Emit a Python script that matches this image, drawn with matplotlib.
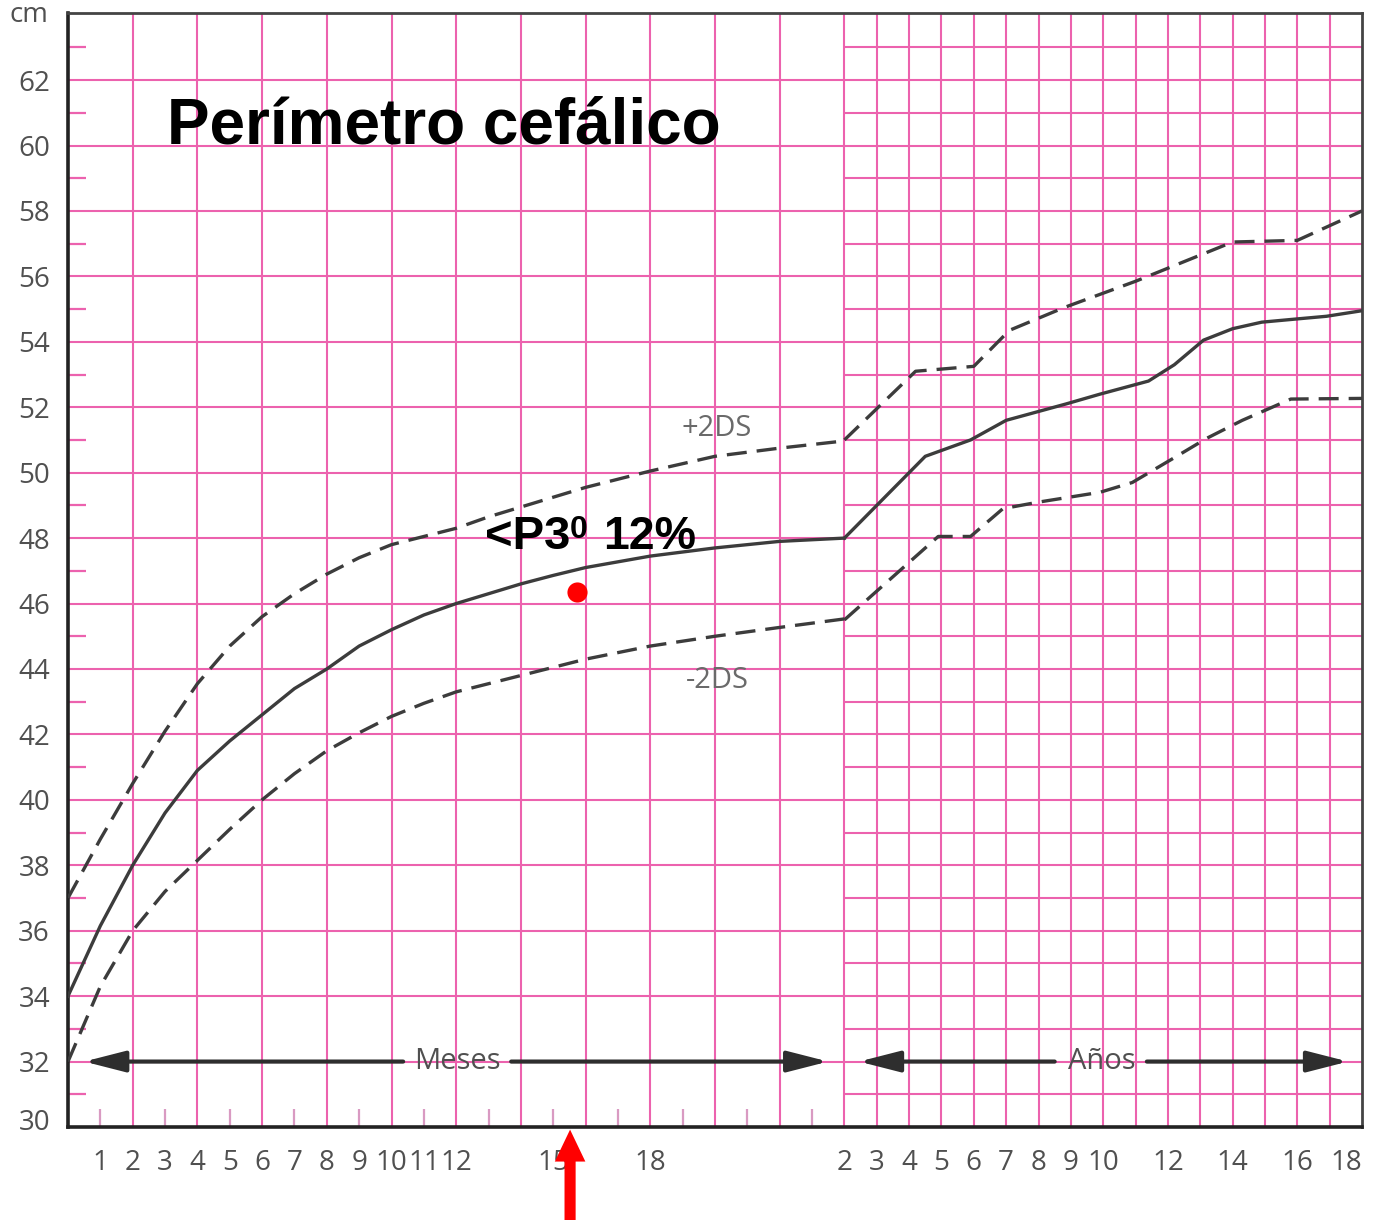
import numpy as np
import matplotlib
matplotlib.use("Agg")
import matplotlib.pyplot as plt
import matplotlib.transforms as mtransforms
from matplotlib.ticker import FixedLocator
from matplotlib.patches import FancyArrowPatch

# ---------------- data ----------------
# months section (0-24 months)
months = [0, 1, 2, 3, 4, 5, 6, 7, 8, 9, 10, 11, 12, 13, 14, 15, 16, 18, 20, 22, 24]
median_months = [34.0, 36.15, 38.0, 39.6, 40.9, 41.8, 42.6, 43.4, 44.0, 44.7, 45.2, 45.65,
                 46.0, 46.3, 46.6, 46.86, 47.1, 47.45, 47.7, 47.9, 48.0]
plus2_months = [37.0, 38.8, 40.5, 42.1, 43.55, 44.7, 45.6, 46.3, 46.9, 47.4, 47.8, 48.05,
                48.3, 48.65, 48.95, 49.25, 49.55, 50.05, 50.5, 50.75, 50.97]
minus2_months = [32.0, 34.3, 36.0, 37.2, 38.15, 39.1, 40.0, 40.8, 41.5, 42.05, 42.55, 42.95,
                 43.3, 43.55, 43.8, 44.05, 44.3, 44.7, 45.0, 45.27, 45.53]

# years section (2-18 years)
median_years_age = [2, 4.5, 5.9, 7, 8.85, 9.9, 11.4, 12.2, 13.1, 14, 14.9, 16, 16.9, 18]
median_years = [48.0, 50.5, 51.0, 51.6, 52.1, 52.4, 52.8, 53.3, 54.05, 54.4, 54.6, 54.7, 54.78, 54.95]
plus2_years_age = [2, 4.2, 6.0, 7.1, 8.8, 11, 14, 16, 18]
plus2_years = [51.0, 53.1, 53.25, 54.35, 55.05, 55.85, 57.05, 57.1, 58.0]
minus2_years_age = [2, 4.9, 5.9, 6.9, 8, 9.9, 10.9, 12.1, 13.2, 14.3, 15.8, 18]
minus2_years = [45.5, 48.05, 48.05, 48.9, 49.1, 49.4, 49.7, 50.4, 51.05, 51.6, 52.25, 52.27]

# patient measurement
patient_age_months = 15.73
patient_value = 46.35

# tick labels
y_ticks = list(range(30, 63, 2))
month_ticks = [1, 2, 3, 4, 5, 6, 7, 8, 9, 10, 11, 12, 15, 18]
year_ticks = [2, 3, 4, 5, 6, 7, 8, 9, 10, 12, 14, 16, 18]

title_text = "Perímetro cefálico"
note_main = "<P3"
note_sup = "0"
note_tail = "12%"


def ypos(a):
    """years -> position on the shared axis (1 year cell == 1 month cell)."""
    return 24 + (np.asarray(a, dtype=float) - 2)


# ---------------- figure ----------------
W, H = 1373, 1220
fig = plt.figure(figsize=(W / 100, H / 100), dpi=100)
fig.patch.set_facecolor("white")
ax = fig.add_axes([68 / W, 93 / H, 1294 / W, 1114 / H])
ax.set_xlim(0, 40)
ax.set_ylim(30, 64.05)

PINK = "#EC62AE"
DARK = "#3c3c3c"
GRAY = "#505050"

# pink grid
ax.vlines(np.arange(2, 24, 2), 30, 64.05, color=PINK, lw=1.5, zorder=1)
ax.vlines(np.arange(24, 40, 1), 30, 64.05, color=PINK, lw=1.5, zorder=1)
ax.hlines(np.arange(32, 64, 2), 0, 24, color=PINK, lw=1.5, zorder=1)
ax.hlines(np.arange(31, 64, 1), 24, 40, color=PINK, lw=1.5, zorder=1)

# curves
pm = np.asarray(months, dtype=float)
dash = (0, (6.0, 3.0))
line_kw = dict(color=DARK, lw=2.4, zorder=3, solid_joinstyle="round")
ax.plot(pm, median_months, **line_kw)
ax.plot(pm, plus2_months, ls=dash, **line_kw)
ax.plot(pm, minus2_months, ls=dash, **line_kw)
ax.plot(ypos(median_years_age), median_years, **line_kw)
ax.plot(ypos(plus2_years_age), plus2_years, ls=dash, **line_kw)
ax.plot(ypos(minus2_years_age), minus2_years, ls=dash, **line_kw)

# patient point
ax.plot([patient_age_months], [patient_value], "o", color="#FF0000", ms=14.5, mec="none", zorder=6)

# spines
for s in ("left", "bottom"):
    ax.spines[s].set_color("#222222")
    ax.spines[s].set_linewidth(2.6)
for s in ("top", "right"):
    ax.spines[s].set_color("#444444")
    ax.spines[s].set_linewidth(2.0)

# y ticks
tick_font = dict(family=["Open Sans", "DejaVu Sans"], size=20, color=GRAY)
ax.yaxis.set_major_locator(FixedLocator(y_ticks))
ax.set_yticklabels([str(v) for v in y_ticks], **tick_font)
ax.yaxis.set_minor_locator(FixedLocator(np.arange(31, 64, 2)))
ax.tick_params(axis="y", which="major", length=0, pad=13)
ax.tick_params(axis="y", which="minor", direction="in", length=13, width=1.6, color=PINK)
lab30 = ax.get_yticklabels()[0]
lab30.set_transform(lab30.get_transform() +
                    mtransforms.ScaledTranslation(0, 8 / 100, fig.dpi_scale_trans))

# x ticks
xpos = list(np.asarray(month_ticks, dtype=float)) + list(ypos(year_ticks))
xlab = [str(v) for v in month_ticks] + [str(v) for v in year_ticks]
ax.xaxis.remove_overlapping_locs = False
ax.xaxis.set_major_locator(FixedLocator(xpos))
ax.set_xticklabels(xlab, **tick_font)
ax.xaxis.set_minor_locator(FixedLocator(np.arange(1, 24, 2)))
ax.tick_params(axis="x", which="major", length=0, pad=16)
ax.tick_params(axis="x", which="minor", direction="in", length=13, width=1.6, color="#D99AC2")
ax.get_xticklabels()[-1].set_horizontalalignment("right")

ax.text(-1.2, 64.0, "cm", ha="center", va="center", clip_on=False, **tick_font)

# Meses / Años arrows
arr_kw = dict(arrowstyle="-|>,head_length=1.25,head_width=0.32", mutation_scale=20,
              lw=3.0, color="#2e2e2e", shrinkA=0, shrinkB=0)
for start, tip in [(10.36, 0.5), (13.7, 23.5), (30.5, 24.45), (33.35, 39.57)]:
    ax.annotate("", xy=(tip, 32), xytext=(start, 32), arrowprops=arr_kw, zorder=4)
lab_font = dict(family=["Open Sans", "DejaVu Sans"], size=21, color=GRAY)
ax.text(12.05, 32.0, "Meses", ha="center", va="center", zorder=5, **lab_font)
ax.text(31.96, 32.0, "Años", ha="center", va="center", zorder=5, **lab_font)

# DS labels
ds_font = dict(family=["Open Sans", "DejaVu Sans"], size=21, color="#6a6a6a")
ax.text(20.06, 51.36, "+2DS", ha="center", va="center", zorder=5, **ds_font)
ax.text(20.06, 43.66, "-2DS", ha="center", va="center", zorder=5, **ds_font)

# title
ax.text(3.06, 60.07, title_text, ha="left", va="baseline", fontsize=46,
        family=["Liberation Sans", "DejaVu Sans"], weight="bold", color="black", zorder=5)

# percentile note
bold = dict(family=["Liberation Sans", "DejaVu Sans"], weight="bold", color="black", zorder=5)
ax.text(12.89, 47.66, note_main, ha="left", va="baseline", fontsize=34, **bold)
ax.text(15.5, 48.0, note_sup, ha="left", va="baseline", fontsize=23, **bold)
ax.text(16.54, 47.66, note_tail, ha="left", va="baseline", fontsize=33.5, **bold)

# red arrow pointing to age
red_arrow = FancyArrowPatch((15.52, 27.0), (15.52, 29.92),
                            arrowstyle="simple,head_length=1.15,head_width=1.1,tail_width=0.4",
                            mutation_scale=20, color="#FF0000", lw=0, shrinkA=0, shrinkB=0,
                            clip_on=False, zorder=10)
ax.add_patch(red_arrow)

fig.savefig("out.png", dpi=100, facecolor="white")
